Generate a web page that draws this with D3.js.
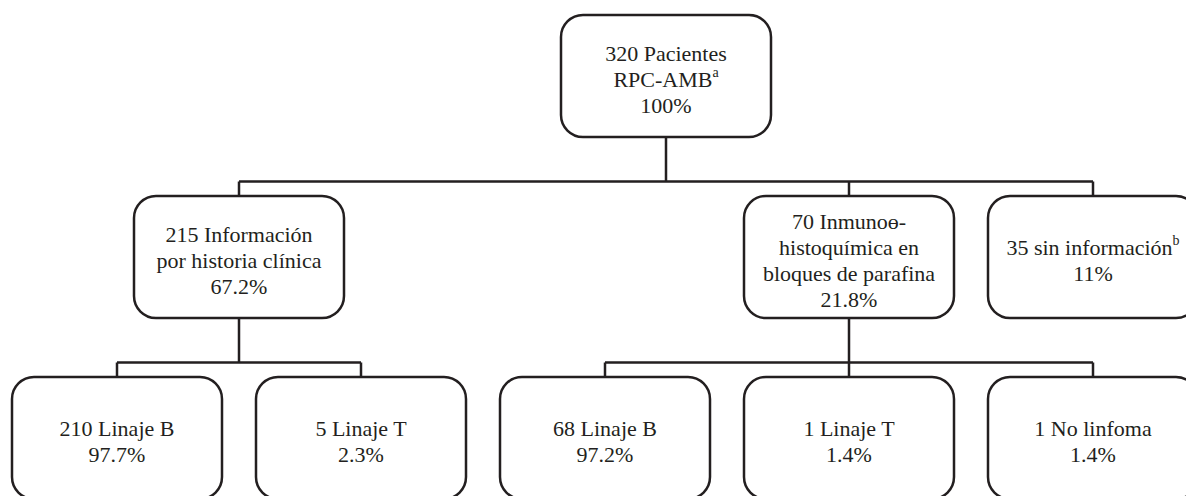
<!DOCTYPE html>
<html>
<head>
<meta charset="utf-8">
<script src="https://cdn.jsdelivr.net/npm/d3@7"></script>
<style>
  body { margin: 0; background: #fff; }
  text { font-family: "Liberation Serif", "Times New Roman", serif; fill: #231f20; }
</style>
</head>
<body>
<div id="chart"></div>
<script>
const svgWidth = 1186
const svgHeight = 496

// flowchart data
const nodeIds = ["root", "hc", "ihq", "sin", "hcB", "hcT", "ihqB", "ihqT", "ihqNo"]
const parentIds = ["", "root", "root", "root", "hc", "hc", "ihq", "ihq", "ihq"]
const counts = [320, 215, 70, 35, 210, 5, 68, 1, 1]
const descriptions = [
  ["Pacientes", "RPC-AMB"],
  ["Información", "por historia clínica"],
  ["Inmunoө-", "histoquímica en", "bloques de parafina"],
  ["sin información"],
  ["Linaje B"],
  ["Linaje T"],
  ["Linaje B"],
  ["Linaje T"],
  ["No linfoma"]
]
const percents = ["100%", "67.2%", "21.8%", "11%", "97.7%", "2.3%", "97.2%", "1.4%", "1.4%"]
const notes = ["a", "", "", "b", "", "", "", "", ""]

const boxW = 210, boxH = 122, radius = 22
const lineH = 26

let svg = d3.select("#chart")
  .append("svg")
  .attr("width", svgWidth)
  .attr("height", svgHeight)

let table = nodeIds.map((id, i) => ({
  id: id,
  parent: parentIds[i] || null,
  count: counts[i],
  desc: descriptions[i],
  pct: percents[i],
  note: notes[i]
}))

let root = d3.stratify().id(d => d.id).parentId(d => d.parent)(table)

// columns for the leaves on the deepest level
let maxDepth = d3.max(root.descendants(), d => d.depth)
let deepLeaves = root.leaves().filter(d => d.depth === maxDepth)
let xScale = d3.scaleLinear().domain([0, deepLeaves.length - 1]).range([117, 1093])
let yScale = d3.scaleLinear().domain([0, maxDepth]).range([15, 377])

deepLeaves.forEach((d, i) => d.slot = i)
root.leaves().filter(d => d.depth < maxDepth).forEach(d => d.slot = deepLeaves.length - 1)

root.eachAfter(d => {
  if (d.children) {
    let xs = d.children.map(c => c.x)
    d.x = (d3.min(xs) + d3.max(xs)) / 2
  } else {
    d.x = xScale(d.slot)
  }
  d.y = yScale(d.depth)
})

// connectors
let links = svg.append("g")
  .attr("fill", "none")
  .attr("stroke", "#231f20")
  .attr("stroke-width", 2.5)

root.descendants().filter(d => d.children).forEach(d => {
  let barY = d.children[0].y - 14.5
  let xs = d.children.map(c => c.x)
  links.append("path")
    .attr("d", `M${d.x},${d.y + boxH}V${barY}M${d3.min(xs)},${barY}H${d3.max(xs)}`)
  d.children.forEach(c => {
    links.append("path").attr("d", `M${c.x},${barY}V${c.y}`)
  })
})

// boxes
let nodes = svg.append("g")
  .selectAll("g")
  .data(root.descendants())
  .enter()
  .append("g")
  .attr("transform", d => `translate(${d.x},${d.y})`)

nodes.append("rect")
  .attr("x", -boxW / 2)
  .attr("y", 0)
  .attr("width", boxW)
  .attr("height", boxH)
  .attr("rx", radius)
  .attr("fill", "#fff")
  .attr("stroke", "#231f20")
  .attr("stroke-width", 2.5)

nodes.each(function(d) {
  let g = d3.select(this)
  let lines = d.data.desc.slice()
  lines[0] = `${d.data.count} ${lines[0]}`
  lines.push(d.data.pct)
  let n = lines.length
  lines.forEach((txt, i) => {
    let t = g.append("text")
      .attr("x", 0)
      .attr("y", boxH / 2 + (i - (n - 1) / 2) * lineH + 11)
      .attr("text-anchor", "middle")
      .style("font-size", "22px")
    t.append("tspan").text(txt)
    if (d.data.note && i === d.data.desc.length - 1) {
      t.append("tspan")
        .attr("dy", -10)
        .style("font-size", "14px")
        .text(d.data.note)
    }
  })
})
</script>
</body>
</html>
